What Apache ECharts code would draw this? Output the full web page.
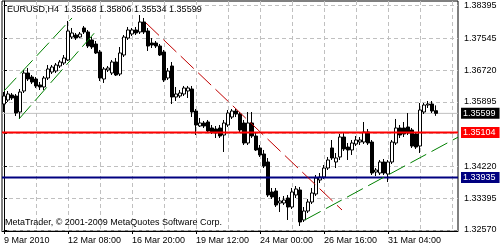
<!DOCTYPE html>
<html><head><meta charset="utf-8">
<script src="https://cdn.jsdelivr.net/npm/echarts@6/dist/echarts.min.js"></script>
<style>html,body{margin:0;padding:0;background:#fff}#c{width:500px;height:250px}</style>
</head><body><div id="c"></div>
<script>
const symbolTitle = 'EURUSD,H4  1.35668 1.35806 1.35534 1.35599';
const copyright = 'MetaTrader, \u00A9 2001-2009 MetaQuotes Software Corp.';
const totalSlots = 114;
const xTickBars = [0, 16, 32, 48, 64, 80, 96];
const xTickLabels = ['9 Mar 2010', '12 Mar 08:00', '16 Mar 20:00', '19 Mar 12:00', '24 Mar 00:00', '26 Mar 16:00', '31 Mar 04:00'];
const xGridBars = [8, 16, 24, 32, 40, 48, 56, 64, 72, 80, 88, 96, 104, 112];
const yTicks = [1.32570, 1.33395, 1.34220, 1.35070, 1.35895, 1.36720, 1.37545, 1.38395];
const yLabels = [1.32570, 1.33395, 1.34220, 1.35895, 1.36720, 1.37545, 1.38395];
const yMin = 1.32544, yMax = 1.38517;

const opens = [1.35842,1.35946,1.36076,1.36050,1.35634,1.36180,1.36647,1.36543,1.36491,1.36336,
1.36284,1.36517,1.36673,1.36699,1.36829,1.36907,1.36985,1.37582,1.37634,1.37582,
1.37816,1.37712,1.37505,1.37400,1.37193,1.36491,1.36725,1.36647,1.36933,1.36621,
1.37115,1.37556,1.37660,1.37764,1.37712,1.37972,1.37738,1.37426,1.37426,1.37348,
1.37193,1.36517,1.36829,1.36024,1.36050,1.36102,1.36180,1.36232,1.35660,1.35271,
1.35349,1.35375,1.35219,1.35193,1.35219,1.35037,1.35297,1.35504,1.35660,1.35582,
1.35349,1.34829,1.35349,1.35011,1.34700,1.34544,1.34336,1.33557,1.33583,1.33271,
1.33271,1.33401,1.33167,1.33479,1.33609,1.32830,1.33063,1.33297,1.33505,1.33868,
1.33946,1.34180,1.34700,1.34336,1.34466,1.34985,1.34725,1.34648,1.34803,1.34855,
1.34855,1.35115,1.34855,1.34076,1.34050,1.34336,1.34024,1.34336,1.34829,1.35219,
1.35219,1.35245,1.35167,1.35063,1.34751,1.35634,1.35816,1.35842,1.35668];
const closes = [1.36050,1.36102,1.35998,1.35608,1.36154,1.36647,1.36491,1.36413,1.36310,1.36284,
1.36517,1.36751,1.36803,1.36855,1.36933,1.37037,1.37738,1.37686,1.37556,1.37660,
1.37712,1.37348,1.37322,1.37167,1.36517,1.36751,1.36777,1.36933,1.36595,1.37167,
1.37582,1.37764,1.37764,1.37686,1.37972,1.37712,1.37348,1.37374,1.37348,1.37115,
1.36465,1.36699,1.36024,1.36102,1.36128,1.36258,1.36258,1.35634,1.35297,1.35349,
1.35271,1.35141,1.35115,1.35089,1.35011,1.35349,1.35608,1.35660,1.35582,1.35167,
1.34829,1.35349,1.35011,1.34648,1.34518,1.34232,1.33479,1.33427,1.33219,1.33323,
1.33349,1.33167,1.33557,1.33635,1.32778,1.33063,1.33297,1.33531,1.33920,1.33946,
1.34180,1.34388,1.34440,1.34440,1.34985,1.34674,1.34648,1.34829,1.34907,1.34907,
1.35115,1.34829,1.34050,1.34128,1.34336,1.34050,1.34336,1.34855,1.35219,1.35037,
1.35063,1.35089,1.34751,1.34725,1.35686,1.35816,1.35842,1.35660,1.35599];
const lows = [1.35634,1.35894,1.35946,1.35530,1.35453,1.36128,1.36439,1.36362,1.36258,1.36206,
1.36206,1.36465,1.36621,1.36647,1.36777,1.36855,1.36959,1.37530,1.37505,1.37556,
1.37660,1.37296,1.37270,1.37141,1.36439,1.36388,1.36673,1.36595,1.36569,1.36569,
1.37063,1.37505,1.37608,1.37634,1.37660,1.37660,1.37219,1.37296,1.37296,1.37089,
1.36413,1.36465,1.35842,1.35920,1.35998,1.36050,1.35998,1.35504,1.35037,1.35245,
1.35219,1.35115,1.35063,1.34959,1.34959,1.34596,1.35245,1.35453,1.35504,1.35115,
1.34777,1.34777,1.34959,1.34622,1.34466,1.34180,1.33427,1.33375,1.33167,1.33037,
1.33219,1.32830,1.33115,1.33401,1.32674,1.32778,1.33011,1.33245,1.33453,1.33790,
1.33894,1.34128,1.34388,1.34180,1.34388,1.34622,1.34388,1.34518,1.34751,1.34777,
1.34803,1.34777,1.33998,1.33972,1.33998,1.33998,1.33816,1.34284,1.34777,1.34959,
1.34985,1.35037,1.34700,1.34674,1.34570,1.35582,1.35738,1.35608,1.35534];
const highs = [1.36154,1.36180,1.36128,1.36102,1.36232,1.36725,1.36777,1.36595,1.36543,1.36413,
1.36569,1.36855,1.36855,1.36907,1.36985,1.37115,1.37998,1.37816,1.37686,1.37712,
1.37868,1.37764,1.37582,1.37478,1.37245,1.36803,1.36829,1.36985,1.37037,1.37322,
1.37634,1.37842,1.37816,1.37842,1.38153,1.38076,1.37816,1.37556,1.37478,1.37400,
1.37245,1.36777,1.36933,1.36284,1.36206,1.36310,1.36310,1.36310,1.35712,1.35479,
1.35401,1.35427,1.35297,1.35271,1.35297,1.35427,1.35686,1.35712,1.35712,1.35634,
1.35427,1.35634,1.35634,1.35089,1.34777,1.34648,1.34440,1.33661,1.33661,1.33427,
1.33453,1.33479,1.33661,1.33713,1.33687,1.33167,1.33375,1.33661,1.33998,1.34050,
1.34258,1.34466,1.34907,1.34570,1.35063,1.35089,1.34829,1.34907,1.35011,1.34985,
1.35375,1.35193,1.34907,1.34180,1.34388,1.34414,1.34388,1.34907,1.35453,1.35297,
1.35375,1.35608,1.35219,1.35115,1.35868,1.35868,1.35920,1.35920,1.35806];

const redLevel = 1.35104;
const blueLevel = 1.33935;
const lastPrice = 1.35599;
const greenUpper = [[0, 1.36180], [17, 1.38076]];
const greenLower = [[3.75, 1.35453], [23.25, 1.37764]];
const redTrend = [[35.5, 1.37946], [84.5, 1.33089]];
const greenBottom = [[75.2, 1.32830], [113.5, 1.34980]];

const FONT = 'Liberation Sans';
const slots = Array.from({length: totalSlots}, (_, i) => i);
const candles = opens.map((o, i) => [o, closes[i], lows[i], highs[i]]);

function level(value, lineColor, width, boxColor, z) {
  return {
    type: 'line', xAxisIndex: 1, yAxisIndex: 0,
    data: [[-0.5, value], [totalSlots - 0.5, value]],
    symbol: 'none', silent: true, z: z, clip: false,
    lineStyle: {color: lineColor, width: width, type: 'solid'},
    endLabel: {
      show: true, distance: 3,
      formatter: value.toFixed(5),
      color: '#fff', backgroundColor: boxColor,
      fontFamily: FONT, fontSize: 9, lineHeight: 10,
      padding: [1, 4, 0, 2]
    }
  };
}
function trend(data, color) {
  return {
    type: 'line', xAxisIndex: 1, yAxisIndex: 0, data: data,
    symbol: 'none', silent: true, z: 4,
    lineStyle: {color: color, width: 1, type: [18, 6]}
  };
}

const chart = echarts.init(document.getElementById('c'), null, {renderer: 'canvas'});
chart.setOption({
  animation: false,
  backgroundColor: '#fff',
  title: [
    {text: symbolTitle, left: 7, top: 5, padding: 0,
     textStyle: {fontFamily: FONT, fontSize: 9, fontWeight: 'normal', color: '#000'}},
    {text: copyright, left: 5, top: 218, padding: 0,
     textStyle: {fontFamily: FONT, fontSize: 9, fontWeight: 'normal', color: '#000'}}
  ],
  grid: {left: 2, right: 42, top: 1, bottom: 19, show: true, borderColor: '#000', borderWidth: 1, backgroundColor: 'transparent'},
  xAxis: [
    {type: 'category', data: slots, boundaryGap: true, show: false},
    {type: 'value', min: -0.5, max: totalSlots - 0.5, position: 'bottom',
     axisLine: {show: true, lineStyle: {color: '#000'}},
     axisTick: {show: true, customValues: xTickBars, length: 3, lineStyle: {color: '#000'}},
     axisLabel: {show: true, customValues: xTickBars, align: 'left', margin: 5,
       fontFamily: FONT, fontSize: 9, color: '#000',
       formatter: v => xTickLabels[xTickBars.indexOf(Math.round(v))] || ''},
     splitLine: {show: false}},
    {type: 'value', min: -0.5, max: totalSlots - 0.5, position: 'top',
     axisLine: {show: false}, axisLabel: {show: false},
     axisTick: {show: false, customValues: xGridBars},
     splitLine: {show: true, customValues: xGridBars, lineStyle: {color: '#c0c0c0', type: [4, 3], width: 1}}}
  ],
  yAxis: [{
    type: 'value', position: 'right', min: yMin, max: yMax, scale: true,
    axisLine: {show: true, lineStyle: {color: '#000'}},
    axisTick: {show: true, customValues: yTicks, length: 3, lineStyle: {color: '#000'}},
    axisLabel: {show: true, customValues: yLabels, margin: 6, fontFamily: FONT, fontSize: 9, color: '#000',
      formatter: v => v.toFixed(5)},
    splitLine: {show: true, customValues: yTicks, lineStyle: {color: '#c0c0c0', type: [4, 3], width: 1}}
  }],
  series: [
    level(lastPrice, '#c0c0c0', 1, '#000', 1),
    {
      type: 'candlestick', xAxisIndex: 0, yAxisIndex: 0, data: candles,
      barWidth: 3, z: 2,
      itemStyle: {color: '#fff', color0: '#000', borderColor: '#000', borderColor0: '#000', borderWidth: 1}
    },
    level(redLevel, '#ff0000', 2, '#ff0000', 3),
    level(blueLevel, '#000080', 2, '#000080', 3),
    trend(greenUpper, '#008000'),
    trend(greenLower, '#008000'),
    trend(redTrend, '#c00000'),
    trend(greenBottom, '#008000')
  ]
});
</script></body></html>
